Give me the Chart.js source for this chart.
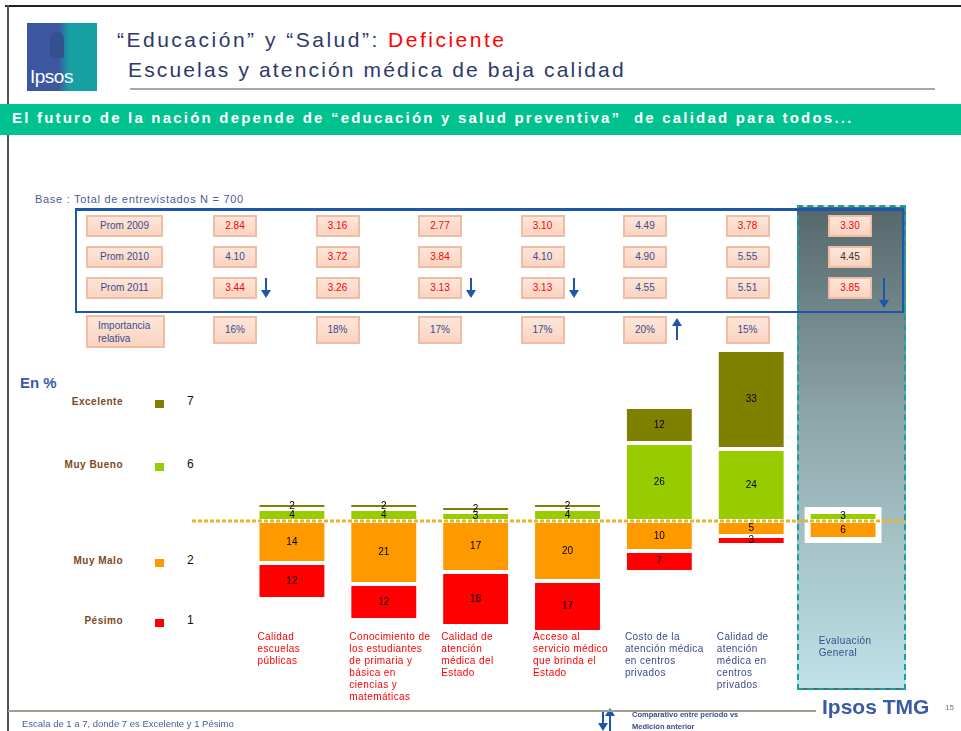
<!DOCTYPE html>
<html>
<head>
<meta charset="utf-8">
<script src="https://cdn.jsdelivr.net/npm/chart.js@4.4.1/dist/chart.umd.min.js"></script>
<style>
  body { margin: 0; background: #fff; font-family: "Liberation Sans", Arial, sans-serif; }
  #page { position: relative; width: 961px; height: 731px; overflow: hidden; background: #fff; }
  .abs { position: absolute; }
  .box { position: absolute; box-sizing: border-box; background: linear-gradient(#fde6da, #fbd3c0);
         border: 2px solid #efbca6; font-size: 10px; text-align: center; color: #3b4a8c; }
</style>
</head>
<body>
<div id="page">
  <!-- frame -->
  <div class="abs" style="left:5px;top:5px;width:956px;height:2px;background:#222;"></div>
  <div class="abs" style="left:7px;top:5px;width:2px;height:726px;background:#555;"></div>

  <!-- logo -->
  <div class="abs" style="left:27px;top:23px;width:70px;height:68px;background:linear-gradient(90deg,#3d56a0 0%,#3d56a0 45%,#17a0a2 60%,#17a0a2 100%);"></div>
  <div class="abs" style="left:50px;top:32px;width:14px;height:26px;border-radius:7px 7px 3px 3px;background:#34508f;"></div>
  <div class="abs" style="left:30px;top:66px;color:#fff;font-size:19px;letter-spacing:-0.5px;">Ipsos</div>

  <!-- title -->
  <div class="abs" style="left:117px;top:28px;font-size:21px;color:#2c3a6a;letter-spacing:2.5px;white-space:nowrap;">“Educación” y “Salud”: <span style="color:#ff0000;">Deficiente</span></div>
  <div class="abs" style="left:128px;top:58px;font-size:21px;color:#2c3a6a;letter-spacing:2.15px;white-space:nowrap;">Escuelas y atención médica de baja calidad</div>
  <div class="abs" style="left:130px;top:88px;width:805px;height:2px;background:#a8a8a8;"></div>

  <!-- banner -->
  <div class="abs" style="left:0;top:104px;width:961px;height:31px;background:#00c28e;"></div>
  <div class="abs" style="left:12px;top:109px;font-size:15px;font-weight:bold;color:#fff;white-space:nowrap;letter-spacing:2.2px;">El futuro de la nación depende de “educación y salud preventiva”&nbsp; de calidad para todos...</div>

  <div class="abs" style="left:35px;top:193px;font-size:11px;color:#4a5c9a;white-space:nowrap;letter-spacing:0.7px;">Base : Total de entrevistados N = 700</div>

  <!-- general panel -->
  <div class="abs" style="left:797px;top:205px;width:109px;height:485px;box-sizing:border-box;border:2px dashed #17a0a0;background:linear-gradient(#55676a,#8fa8ab 45%,#bfe2e8);"></div>
  <!-- blue frame -->
  <div class="abs" style="left:75px;top:208px;width:829px;height:105px;box-sizing:border-box;border:2px solid #1f57a8;border-top-width:3px;"></div>

  <div id="table"></div>

  <!-- legend -->
  <div class="abs" style="left:20px;top:374px;font-size:15px;font-weight:bold;color:#3a5aa8;">En %</div>
  <div id="legend"></div>

  <canvas id="chart" width="961" height="731" class="abs" style="left:0;top:0;"></canvas>

  <!-- footer -->
  <div class="abs" style="left:8px;top:710px;width:808px;height:2px;background:#a0a090;"></div>
  <div class="abs" style="left:22px;top:718px;font-size:9.5px;color:#4a5c9a;white-space:nowrap;">Escala de 1 a 7, donde 7 es Excelente y 1 Pésimo</div>
  <div class="abs" style="left:632px;top:709px;font-size:7.5px;font-weight:bold;color:#3b4a8c;line-height:12px;white-space:nowrap;">Comparativo entre período vs<br>Medición anterior</div>
  <div class="abs" style="left:822px;top:695px;font-size:21px;font-weight:bold;color:#3a5aa8;white-space:nowrap;">Ipsos TMG</div>
  <div class="abs" style="left:945px;top:703px;font-size:8px;color:#777;">15</div>
</div>

<script>
// --- data ---
var categories = [
  ['Calidad', 'escuelas', 'públicas'],
  ['Conocimiento de', 'los estudiantes', 'de primaria y', 'básica en', 'ciencias y', 'matemáticas'],
  ['Calidad de', 'atención', 'médica del', 'Estado'],
  ['Acceso al', 'servicio médico', 'que brinda el', 'Estado'],
  ['Costo de la', 'atención médica', 'en centros', 'privados'],
  ['Calidad de', 'atención', 'médica en', 'centros', 'privados'],
  ['Evaluación', 'General']
];
var excelente = [2, 2, 2, 2, 12, 33, 0];
var muyBueno  = [4, 4, 3, 4, 26, 24, 3];
var muyMalo   = [14, 21, 17, 20, 10, 5, 6];
var pesimo    = [12, 12, 18, 17, 7, 3, 0];

var years = ['Prom 2009', 'Prom 2010', 'Prom 2011'];
var prom2009 = [2.84, 3.16, 2.77, 3.10, 4.49, 3.78, 3.30];
var prom2010 = [4.10, 3.72, 3.84, 4.10, 4.90, 5.55, 4.45];
var prom2011 = [3.44, 3.26, 3.13, 3.13, 4.55, 5.51, 3.85];
var importancia = [16, 18, 17, 17, 20, 15];
var trend2011 = ['down', '', 'down', 'down', '', '', 'down'];
var trendImportancia = ['', '', '', '', 'up', ''];

var legendLabels = ['Excelente', 'Muy Bueno', 'Muy Malo', 'Pésimo'];
var legendScores = ['7', '6', '2', '1'];

// --- colours ---
var cExc = '#808000', cMB = '#99cc00', cMM = '#ff9900', cPes = '#ff0000';

// --- table (HTML) ---
var table = document.getElementById('table');
function add(parent, html, style, cls) {
  var d = document.createElement('div');
  if (cls) d.className = cls; else d.className = 'abs';
  d.style.cssText += style;
  d.innerHTML = html;
  parent.appendChild(d);
  return d;
}
function arrow(x, top, len, dir) {
  var c = '#1f57a8';
  add(table, '', 'left:' + (x - 1) + 'px;top:' + (dir === 'down' ? top : top + 7) + 'px;width:2px;height:' + (len - 7) + 'px;background:' + c + ';');
  if (dir === 'down')
    add(table, '', 'left:' + (x - 5) + 'px;top:' + (top + len - 8) + 'px;width:0;height:0;border-left:5px solid transparent;border-right:5px solid transparent;border-top:8px solid ' + c + ';');
  else
    add(table, '', 'left:' + (x - 5) + 'px;top:' + top + 'px;width:0;height:0;border-left:5px solid transparent;border-right:5px solid transparent;border-bottom:8px solid ' + c + ';');
}
function colCenter(i) { return 235 + i * 102.5; }
var rowTops = [215, 246, 277];
var rows = [prom2009, prom2010, prom2011];
years.forEach(function (y, r) {
  add(table, y, 'left:86px;top:' + rowTops[r] + 'px;width:77px;height:22px;line-height:18px;', 'box');
  rows[r].forEach(function (v, i) {
    var col = v < 4 ? '#ff0000' : (i === 6 ? '#333' : '#3b4a8c');
    add(table, v.toFixed(2), 'left:' + (colCenter(i) - 22) + 'px;top:' + rowTops[r] + 'px;width:44px;height:22px;line-height:18px;color:' + col + ';', 'box');
  });
});
trend2011.forEach(function (t, i) {
  if (t) arrow(colCenter(i) + 31 + (i === 6 ? 3 : 0), 278, i === 6 ? 30 : 20, t);
});
add(table, 'Importancia<br>relativa', 'left:86px;top:315px;width:79px;height:33px;line-height:13px;text-align:left;padding:2px 0 0 10px;', 'box');
importancia.forEach(function (v, i) {
  add(table, v + '%', 'left:' + (colCenter(i) - 22) + 'px;top:316px;width:44px;height:28px;line-height:24px;', 'box');
  if (trendImportancia[i]) arrow(colCenter(i) + 32, 318, 22, trendImportancia[i]);
});
// footer arrow key
arrow(603, 712, 19, 'down');
arrow(610, 708, 23, 'up');

// --- legend (HTML) ---
var legend = document.getElementById('legend');
var legendY = [403, 466, 562, 622];
var legendC = [cExc, cMB, cMM, cPes];
legendLabels.forEach(function (l, k) {
  add(legend, l, 'right:' + (961 - 123) + 'px;top:' + (legendY[k] - 7) + 'px;font-size:10px;font-weight:bold;color:#7a4a1e;white-space:nowrap;letter-spacing:0.5px;');
  add(legend, '', 'left:155px;top:' + (legendY[k] - 3) + 'px;width:9px;height:8px;background:' + legendC[k] + ';');
  add(legend, legendScores[k], 'left:187px;top:' + (legendY[k] - 9) + 'px;font-size:12px;color:#111;');
});

// --- chart ---
var extras = {
  id: 'extras',
  beforeDatasetsDraw: function (chart) {
    // white frame behind the general evaluation bar
    var ctx = chart.ctx, i = 6, top = Infinity, bot = -Infinity, x, w;
    chart.data.datasets.forEach(function (ds, d) {
      var el = chart.getDatasetMeta(d).data[i];
      if (!ds.data[i]) return;
      top = Math.min(top, el.y, el.base); bot = Math.max(bot, el.y, el.base);
      x = el.x; w = el.width;
    });
    ctx.save();
    ctx.fillStyle = '#fff';
    ctx.fillRect(x - w / 2 - 4, top - 5, w + 8, bot - top + 9);
    ctx.restore();
  },
  afterDatasetsDraw: function (chart) {
    var ctx = chart.ctx, ys = chart.scales.y;
    var y0 = ys.getPixelForValue(0);
    ctx.save();
    // dotted baseline
    ctx.strokeStyle = '#e8b530';
    ctx.lineWidth = 3;
    ctx.setLineDash([4, 2]);
    ctx.beginPath();
    ctx.moveTo(192, y0);
    ctx.lineTo(905, y0);
    ctx.stroke();
    ctx.setLineDash([]);
    // values in segments
    ctx.fillStyle = '#000';
    ctx.font = '10px "Liberation Sans", Arial, sans-serif';
    ctx.textAlign = 'center';
    ctx.textBaseline = 'middle';
    chart.data.datasets.forEach(function (ds, d) {
      chart.getDatasetMeta(d).data.forEach(function (el, i) {
        var v = Math.abs(ds.data[i]);
        if (!v) return;
        ctx.fillText(String(v), el.x, (el.y + el.base) / 2);
      });
    });
    // category labels
    ctx.textAlign = 'left';
    ctx.textBaseline = 'top';
    ctx.letterSpacing = '0.4px';
    var meta = chart.getDatasetMeta(0);
    categories.forEach(function (lines, i) {
      var el = meta.data[i];
      ctx.fillStyle = i < 4 ? '#ff0000' : '#3b4a8c';
      var x = el.x - el.width / 2 + (i === 6 ? 10 : 0);
      var y = 632 + (i === 6 ? 4 : 0);
      lines.forEach(function (t, k) { ctx.fillText(t, x, y + k * 12); });
    });
    ctx.restore();
  }
};

new Chart(document.getElementById('chart').getContext('2d'), {
  type: 'bar',
  data: {
    labels: categories.map(function (c) { return c.join(' '); }),
    datasets: [
      { label: 'Muy Bueno', data: muyBueno, backgroundColor: cMB },
      { label: 'Excelente', data: excelente, backgroundColor: cExc },
      { label: 'Muy Malo', data: muyMalo.map(function (v) { return -v; }), backgroundColor: cMM },
      { label: 'Pésimo', data: pesimo.map(function (v) { return -v; }), backgroundColor: cPes }
    ]
  },
  options: {
    responsive: false,
    animation: false,
    devicePixelRatio: 1,
    layout: { padding: { left: 246, right: 72, top: 341, bottom: 30 } },
    datasets: { bar: { borderColor: '#fff', borderWidth: 2, borderSkipped: false,
                       categoryPercentage: 1, barPercentage: 0.75 } },
    plugins: { legend: { display: false }, tooltip: { enabled: false } },
    scales: {
      x: { display: false, stacked: true },
      y: { display: false, stacked: true, min: -60, max: 60 }
    }
  },
  plugins: [extras]
});
</script>
</body>
</html>
